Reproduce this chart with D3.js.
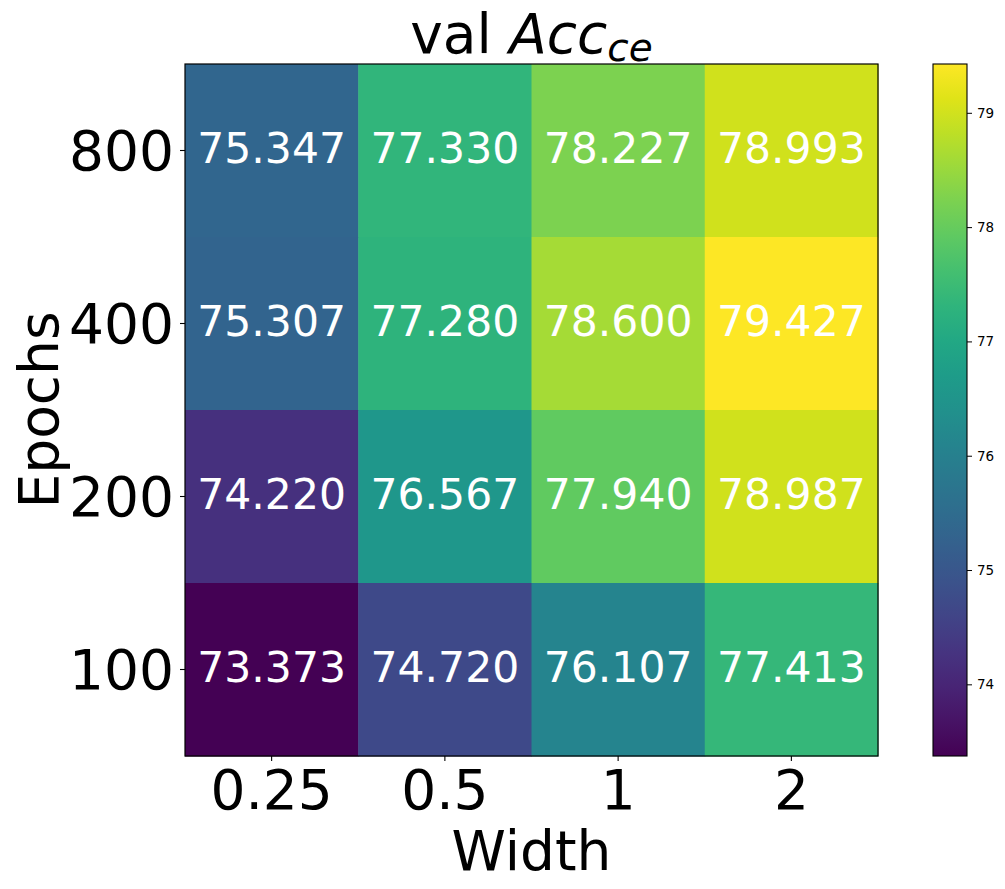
<!DOCTYPE html>
<html>
<head>
<meta charset="utf-8">
<script src="https://cdn.jsdelivr.net/npm/d3@7"></script>
<style>
  body { margin: 0; background: #fff; }
  text { font-family: "DejaVu Sans", sans-serif; }
</style>
</head>
<body>
<div id="chart"></div>
<script>
let widths = ["0.25", "0.5", "1", "2"];
let epochs = ["800", "400", "200", "100"];
let accValues = [
    [75.347, 77.330, 78.227, 78.993],
    [75.307, 77.280, 78.600, 79.427],
    [74.220, 76.567, 77.940, 78.987],
    [73.373, 74.720, 76.107, 77.413]
];
let cbarTicks = [74, 75, 76, 77, 78, 79];

let svgWidth = 1005;
let svgHeight = 889;
let mar = { top: 64, left: 185 };
let wdt = 693;
let hgt = 692;

let svg = d3.select("#chart")
    .append("svg")
    .attr("width", svgWidth)
    .attr("height", svgHeight);

let chart = svg.append("g")
    .attr("transform", `translate(${mar.left}, ${mar.top})`);

let cells = [];
accValues.forEach((row, i) => row.forEach((v, j) => cells.push({ row: epochs[i], col: widths[j], v: v })));

let vmin = d3.min(cells, d => d.v);
let vmax = d3.max(cells, d => d.v);

let x = d3.scaleBand().domain(widths).range([0, wdt]);
let y = d3.scaleBand().domain(epochs).range([0, hgt]);
let color = d3.scaleSequential(d3.interpolateViridis).domain([vmin, vmax]);

chart.selectAll("rect.cell")
    .data(cells)
    .enter()
    .append("rect")
    .attr("class", "cell")
    .attr("x", d => x(d.col))
    .attr("y", d => y(d.row))
    .attr("width", x.bandwidth() + 0.5)
    .attr("height", y.bandwidth() + 0.5)
    .attr("fill", d => color(d.v));

chart.selectAll("text.val")
    .data(cells)
    .enter()
    .append("text")
    .attr("class", "val")
    .attr("x", d => x(d.col) + x.bandwidth() / 2)
    .attr("y", d => y(d.row) + y.bandwidth() / 2 + 12)
    .attr("text-anchor", "middle")
    .attr("fill", "white")
    .attr("font-size", 42.5)
    .text(d => d.v.toFixed(3));

chart.append("rect")
    .attr("width", wdt)
    .attr("height", hgt)
    .attr("fill", "none")
    .attr("stroke", "black")
    .attr("stroke-width", 1.2);

// axes
let xAxis = chart.append("g")
    .attr("transform", `translate(0, ${hgt})`)
    .call(d3.axisBottom(x).tickSize(5).tickPadding(6));
let yAxis = chart.append("g")
    .call(d3.axisLeft(y).tickSize(5).tickPadding(6));

[xAxis, yAxis].forEach(a => {
    a.select(".domain").remove();
    a.selectAll(".tick line").attr("stroke", "black").attr("stroke-width", 1.1);
    a.selectAll(".tick text").attr("font-size", 55).attr("fill", "black")
        .attr("font-family", "DejaVu Sans");
});
xAxis.selectAll(".tick text").attr("dy", "0.76em");
yAxis.selectAll(".tick text").attr("dy", "0.36em");

svg.append("text")
    .attr("x", mar.left + wdt / 2)
    .attr("y", 870)
    .attr("text-anchor", "middle")
    .attr("font-size", 55)
    .text("Width");

svg.append("text")
    .attr("transform", `translate(58, ${mar.top + hgt / 2}) rotate(-90)`)
    .attr("text-anchor", "middle")
    .attr("font-size", 55)
    .text("Epochs");

// title
let title = svg.append("text")
    .attr("x", mar.left + wdt / 2)
    .attr("y", 53)
    .attr("text-anchor", "middle")
    .attr("font-size", 55);
title.append("tspan").text("val ");
title.append("tspan").attr("font-style", "italic").text("Acc");
title.append("tspan").attr("font-style", "italic").attr("font-size", 39).attr("dy", 8).text("ce");

// colorbar
let cb = { x: 933, w: 34 };
let defs = svg.append("defs");
let grad = defs.append("linearGradient")
    .attr("id", "cbgrad")
    .attr("x1", 0).attr("y1", 1).attr("x2", 0).attr("y2", 0);
d3.range(0, 1.0001, 0.05).forEach(t => {
    grad.append("stop")
        .attr("offset", t)
        .attr("stop-color", d3.interpolateViridis(t));
});

let cy = d3.scaleLinear().domain([vmin, vmax]).range([mar.top + hgt, mar.top]);

svg.append("rect")
    .attr("x", cb.x)
    .attr("y", mar.top)
    .attr("width", cb.w)
    .attr("height", hgt)
    .attr("fill", "url(#cbgrad)")
    .attr("stroke", "black")
    .attr("stroke-width", 1.1);

let cbAxis = svg.append("g")
    .attr("transform", `translate(${cb.x + cb.w}, 0)`)
    .call(d3.axisRight(cy).tickValues(cbarTicks).tickFormat(d3.format("d")).tickSize(5).tickPadding(5));
cbAxis.select(".domain").remove();
cbAxis.selectAll(".tick line").attr("stroke", "black");
cbAxis.selectAll(".tick text").attr("font-size", 13.5).attr("fill", "black")
    .attr("font-family", "DejaVu Sans");
</script>
</body>
</html>
